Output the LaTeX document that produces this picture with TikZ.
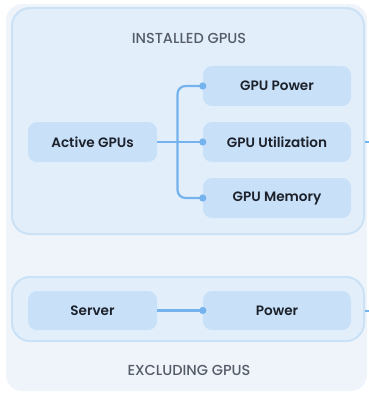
\documentclass[tikz,border=0pt]{standalone}
\usepackage{fontspec}
\setmainfont{Poppins}[UprightFont=* Medium]
\newfontfamily\boxfont{Poppins}[UprightFont=* SemiBold]
\usetikzlibrary{calc}
\definecolor{outerbg}{HTML}{EEF4FA}
\definecolor{panelbg}{HTML}{E2EFFB}
\definecolor{panelline}{HTML}{CBE1F6}
\definecolor{boxbg}{HTML}{C9E1F8}
\definecolor{wire}{HTML}{74B3EE}
\definecolor{headtext}{HTML}{555C68}
\definecolor{boxtext}{HTML}{1C212B}
\tikzset{
  x=1pt, y=-1pt,
  panel/.style={draw=panelline, line width=2pt, fill=panelbg, rounded corners=18pt},
  box/.style={fill=boxbg, rounded corners=9pt, inner sep=0pt, text=boxtext,
    font=\boxfont\fontsize{13.6}{15}\selectfont},
  head/.style={text=headtext, font=\fontsize{14.5}{16}\selectfont},
  wire/.style={draw=wire, line width=2.2pt},
  tip/.style={fill=wire}
}
\begin{document}
\begin{tikzpicture}
\useasboundingbox (0,0) rectangle (368,393);
% outer card
\fill[outerbg, rounded corners=16pt] (6,4) rectangle (367,391);
% panels
\draw[panel] (12,8) rectangle (364,234);
\draw[panel] (12,277) rectangle (364,341);
% titles
\node[head] (t1) at (189,38) {INSTALLED GPUS};
\node[head] (t2) at (189,370) {EXCLUDING GPUS};
% boxes
\node[box, minimum width=129pt, minimum height=40pt] (act) at (92.5,142) {Active GPUs};
\node[box, minimum width=148pt, minimum height=40pt] (pw) at (277,86) {GPU Power};
\node[box, minimum width=148pt, minimum height=40pt] (util) at (277,142) {GPU Utilization};
\node[box, minimum width=148pt, minimum height=40pt] (mem) at (277,198) {GPU Memory};
\node[box, minimum width=129pt, minimum height=39pt] (srv) at (92.5,310.5) {Server};
\node[box, minimum width=148pt, minimum height=39pt] (pwr) at (277,310.5) {Power};
% junction and outgoing stubs
\coordinate (j) at (177.5,142);
\coordinate (uo1) at (365,142);
\coordinate (uo2) at (369,142);
\coordinate (po1) at (365,310.5);
\coordinate (po2) at (369,310.5);
% connectors
\draw[wire] (act.east) -- (util.west);
\draw[wire, rounded corners=8pt] (pw.west) -| (j) |- (mem.west);
\draw[wire] (srv.east) -- (pwr.west);
\draw[wire, line width=2pt] (uo1) -- (uo2);
\draw[wire, line width=2pt] (po1) -- (po2);
% end dots
\foreach \n in {pw,util,mem,pwr}
  \fill[tip] (\n.west) circle (3.6pt);
\end{tikzpicture}
\end{document}
